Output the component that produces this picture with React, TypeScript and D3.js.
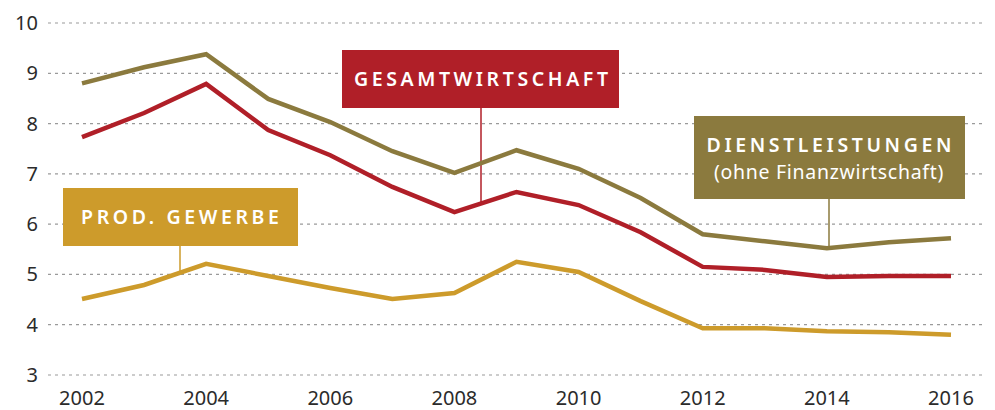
import React, { useEffect, useRef } from 'react'
import * as d3 from 'd3'

const years = [2002, 2003, 2004, 2005, 2006, 2007, 2008, 2009, 2010, 2011, 2012, 2013, 2014, 2015, 2016]
const dienstleistungen = [8.8, 9.12, 9.38, 8.49, 8.03, 7.45, 7.02, 7.47, 7.1, 6.52, 5.8, 5.66, 5.52, 5.64, 5.72]
const gesamtwirtschaft = [7.73, 8.21, 8.79, 7.87, 7.37, 6.74, 6.24, 6.64, 6.38, 5.84, 5.15, 5.09, 4.95, 4.97, 4.97]
const prodGewerbe = [4.51, 4.79, 5.21, 4.97, 4.73, 4.51, 4.63, 5.25, 5.05, 4.47, 3.93, 3.93, 3.87, 3.85, 3.8]
const yTicks = [3, 4, 5, 6, 7, 8, 9, 10]
const xTicks = [2002, 2004, 2006, 2008, 2010, 2012, 2014, 2016]

const FONT = '"Noto Sans", "Open Sans", sans-serif'

export default function App(){
  const svgRef = useRef<SVGSVGElement>(null)

  useEffect(()=>{
    const width = 995, height = 410
    const svg = d3.select(svgRef.current)
      .attr('width', width).attr('height', height)
      .style('display','block')
    svg.selectAll('*').remove()

    const x = d3.scaleLinear().domain([2002, 2016]).range([82, 951])
    const y = d3.scaleLinear().domain([3, 10]).range([375, 23])

    // grid
    const grid = svg.append('g')
    grid.selectAll('line').data(yTicks).join('line')
      .attr('x1', 48).attr('x2', 985)
      .attr('y1', d=>y(d)).attr('y2', d=>y(d))
      .attr('stroke', '#9a9a9a').attr('stroke-width', 1.2)
      .attr('stroke-dasharray', '3,4')

    // y labels
    svg.append('g').selectAll('text').data(yTicks).join('text')
      .attr('x', 38).attr('y', d=>y(d)).attr('dy','0.35em')
      .attr('text-anchor','end')
      .attr('font-family', FONT).attr('font-size', 20).attr('fill','#2b2b2b')
      .text(d=>d)

    // x labels
    svg.append('g').selectAll('text').data(xTicks).join('text')
      .attr('x', d=>x(d)).attr('y', 405)
      .attr('text-anchor','middle')
      .attr('font-family', FONT).attr('font-size', 20).attr('fill','#2b2b2b')
      .text(d=>d)

    const series = [
      { vals: dienstleistungen, color: '#8b7a3e' },
      { vals: gesamtwirtschaft, color: '#b01f28' },
      { vals: prodGewerbe, color: '#cd9b2b' },
    ]
    const line = d3.line<number>().x((d,i)=>x(years[i])).y(d=>y(d))

    // leader lines (drawn under the series)
    const leaders = [
      { x: 481, y1: 108, yv: (gesamtwirtschaft[6] + gesamtwirtschaft[7]) / 2, color: '#b01f28' },
      { x: 829, y1: 199, yv: dienstleistungen[12], color: '#8b7a3e' },
      { x: 180, y1: 246, yv: (prodGewerbe[1] + prodGewerbe[2]) / 2 + 0.05, color: '#cd9b2b' },
    ]
    leaders.forEach(l=>{
      svg.append('line')
        .attr('x1', l.x).attr('x2', l.x)
        .attr('y1', l.y1).attr('y2', y(l.yv))
        .attr('stroke', l.color).attr('stroke-width', 1.5)
    })

    series.forEach(s=>{
      svg.append('path')
        .attr('d', line(s.vals))
        .attr('fill','none')
        .attr('stroke', s.color)
        .attr('stroke-width', 4.5)
        .attr('stroke-linejoin','miter')
    })

    // label boxes
    const box = (x0:number, y0:number, w:number, h:number, color:string) =>
      svg.append('rect').attr('x', x0).attr('y', y0).attr('width', w).attr('height', h).attr('fill', color)

    const boldLabel = (cx:number, cy:number, txt:string) =>
      svg.append('text')
        .attr('x', cx + 1.8).attr('y', cy).attr('text-anchor','middle')
        .attr('font-family', FONT).attr('font-size', 19.5).attr('font-weight', 600)
        .attr('letter-spacing', 3.6).attr('fill', '#fff')
        .text(txt)

    box(342, 50, 277, 58, '#b01f28')
    boldLabel(481, 86, 'GESAMTWIRTSCHAFT')

    box(694, 116, 271, 83, '#8b7a3e')
    boldLabel(829, 152, 'DIENSTLEISTUNGEN')
    svg.append('text')
      .attr('x', 829).attr('y', 179).attr('text-anchor','middle')
      .attr('font-family', FONT).attr('font-size', 19.5)
      .attr('letter-spacing', 0.7).attr('fill', '#fff')
      .text('(ohne Finanzwirtschaft)')

    box(63, 188, 235, 58, '#cd9b2b')
    boldLabel(180, 224, 'PROD. GEWERBE')
  },[])

  return <svg ref={svgRef} style={{position:'absolute', left:0, top:0}}></svg>
}
